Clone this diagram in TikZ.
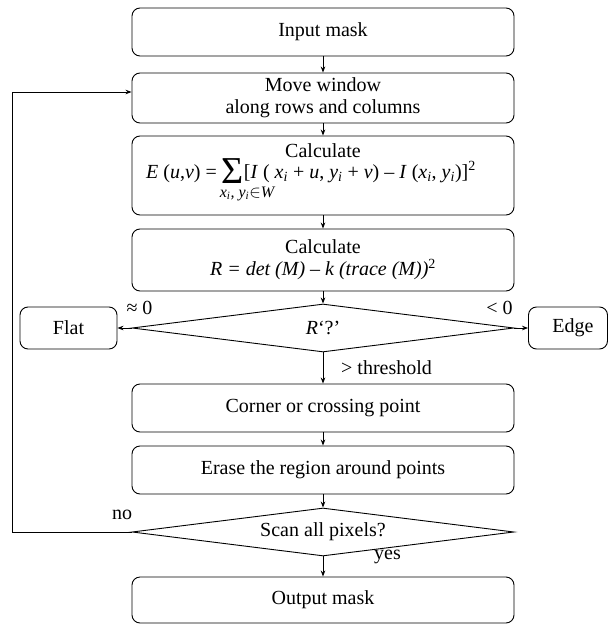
\documentclass[tikz,border=0pt]{standalone}
\usepackage{fontspec}
\setmainfont{Liberation Serif}
\usetikzlibrary{shapes.geometric,arrows.meta}
\newcommand{\fsz}{\fontsize{20}{22}\selectfont}
\newcommand{\sbi}{\textsubscript{\textit{i}}}
\newcommand{\bigsigma}{\begin{tabular}[t]{@{}l@{}}\raisebox{-5pt}{\fontsize{38}{38}\selectfont Σ}\\[-3pt]\rlap{\hspace*{-2pt}\fontsize{16}{16}\selectfont\itshape x\sbi, y\sbi\upshape$\in$\itshape W}\end{tabular}}
\begin{document}
\begin{tikzpicture}[x=1pt,y=-1pt,
  every node/.style={font=\fsz},
  box/.style={draw, rounded corners=8pt, minimum width=382pt, minimum height=48pt, inner sep=0pt, align=center, line width=0.9pt},
  sidebox/.style={draw, rounded corners=8pt, minimum height=42pt, inner sep=0pt, line width=0.9pt},
  dec/.style={draw, diamond, aspect=8, minimum width=382pt, minimum height=48pt, inner sep=0pt, line width=0.9pt},
  arr/.style={-{Stealth[length=6pt,width=4.5pt]}, line width=0.8pt},
  lbl/.style={inner sep=0pt}]
\useasboundingbox (0,0) rectangle (608,624);
\node[box] (in) at (323,32) {Input mask};
\node[box, minimum height=50pt] (move) at (323,98) {Move window\\along rows and columns};
\node[box, minimum height=79pt] (calcE) at (323,175.5) {};
\node[inner sep=0pt, anchor=base] (calcEt) at (323,157) {Calculate};
\node[inner sep=0pt, anchor=base] (calcEf) at (311,178) {\textit{E} (\textit{u},\textit{v}) = \bigsigma[\textit{I} ( \textit{x}\sbi{} + \textit{u}, \textit{y}\sbi{} + \textit{v}) -- \textit{I} (\textit{x}\sbi, \textit{y}\sbi)]\textsuperscript{2}};
\node[box, minimum height=62pt] (calcR) at (323,260) {Calculate\\\textit{R = det (M) -- k (trace (M))}\textsuperscript{2}};
\node[dec] (r) at (323,328) {\textit{R}‘?’};
\node[sidebox, minimum width=97pt] (flat) at (68.5,328) {Flat};
\node[sidebox, minimum width=79pt] (edge) at (568,328) {\hspace*{10pt}Edge};
\node[box] (corner) at (323,408) {Corner or crossing point};
\node[box] (erase) at (323,470) {Erase the region around points};
\node[dec] (scan) at (323,532) {Scan all pixels?};
\node[box, minimum height=46pt] (out) at (323,600) {Output mask};
\coordinate (back) at (12,532);
\node[lbl] (l1) at (139.5,308) {≈ 0};
\node[lbl] (l2) at (499.5,308) {< 0};
\node[lbl, anchor=west] (l3) at (341,368) {> threshold};
\node[lbl] (l4) at (122,515) {no};
\node[lbl, anchor=west] (l5) at (374,557) {yes};
\draw[arr] (in) -- (move);
\draw[arr] (move) -- (calcE);
\draw[arr] (calcE) -- (calcR);
\draw[arr] (calcR) -- (r);
\draw[arr] (r) -- (corner);
\draw[arr] (corner) -- (erase);
\draw[arr] (erase) -- (scan);
\draw[arr] (scan) -- (out);
\draw[arr] (r.west) -- (flat.east);
\draw[arr] (r.east) -- (edge.west);
\draw[arr] (scan.west) -- (back) |- ([yshift=6pt]move.west);
\end{tikzpicture}
\end{document}
